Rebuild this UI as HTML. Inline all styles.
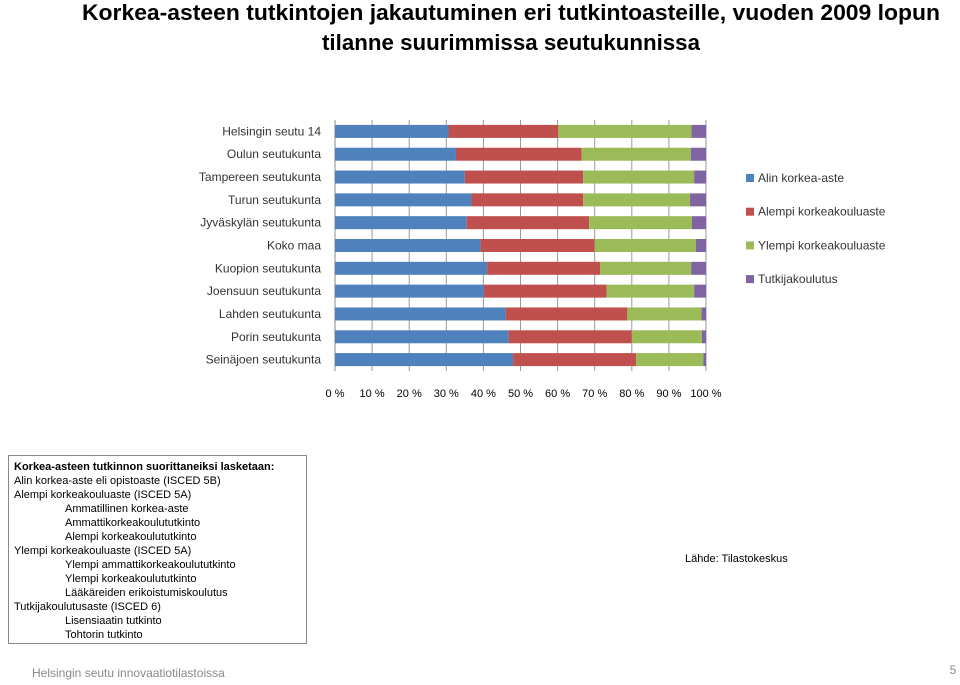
<!DOCTYPE html>
<html><head><meta charset="utf-8"><style>
body{margin:0;background:#fff;font-family:"Liberation Sans",sans-serif}
svg text{font-family:"Liberation Sans",sans-serif}
</style></head><body>
<svg width="960" height="680" viewBox="0 0 960 680">
<text x="511" y="20" text-anchor="middle" font-size="22" font-weight="bold" textLength="858" lengthAdjust="spacingAndGlyphs">Korkea-asteen tutkintojen jakautuminen eri tutkintoasteille, vuoden 2009 lopun</text>
<text x="511" y="50" text-anchor="middle" font-size="22" font-weight="bold" textLength="378" lengthAdjust="spacingAndGlyphs">tilanne suurimmissa seutukunnissa</text>
<g id="chart"></g>
<rect x="8.5" y="455.5" width="298" height="188" fill="none" stroke="#888"/>
<g font-size="11" fill="#000">
<text x="14" y="470" font-weight="bold">Korkea-asteen tutkinnon suorittaneiksi lasketaan:</text>
<text x="14" y="484">Alin korkea-aste eli opistoaste (ISCED 5B)</text>
<text x="14" y="498">Alempi korkeakouluaste (ISCED 5A)</text>
<text x="65" y="512">Ammatillinen korkea-aste</text>
<text x="65" y="526">Ammattikorkeakoulututkinto</text>
<text x="65" y="540">Alempi korkeakoulututkinto</text>
<text x="14" y="554">Ylempi korkeakouluaste (ISCED 5A)</text>
<text x="65" y="568">Ylempi ammattikorkeakoulututkinto</text>
<text x="65" y="582">Ylempi korkeakoulututkinto</text>
<text x="65" y="596">Lääkäreiden erikoistumiskoulutus</text>
<text x="14" y="610">Tutkijakoulutusaste (ISCED 6)</text>
<text x="65" y="624">Lisensiaatin tutkinto</text>
<text x="65" y="638">Tohtorin tutkinto</text>
</g>
<text x="685" y="562" font-size="11">Lähde: Tilastokeskus</text>
<text x="32" y="677" font-size="12" fill="#888">Helsingin seutu innovaatiotilastoissa</text>
<text x="953" y="674" font-size="12" fill="#888" text-anchor="middle">5</text>
</svg>
<script>
const categories=["Helsingin seutu 14","Oulun seutukunta","Tampereen seutukunta","Turun seutukunta","Jyväskylän seutukunta","Koko maa","Kuopion seutukunta","Joensuun seutukunta","Lahden seutukunta","Porin seutukunta","Seinäjoen seutukunta"];
const alin=[30.6,32.6,35.0,36.8,35.5,39.2,41.0,40.1,46.0,46.8,48.0];
const alempi=[29.6,33.9,31.9,30.1,33.0,30.8,30.5,33.1,32.8,33.2,33.2];
const ylempi=[35.9,29.4,29.9,28.8,27.7,27.3,24.5,23.6,20.0,18.9,18.1];
const tutkija=[3.9,4.1,3.2,4.3,3.8,2.7,4.0,3.2,1.2,1.1,0.7];
const seriesNames=["Alin korkea-aste","Alempi korkeakouluaste","Ylempi korkeakouluaste","Tutkijakoulutus"];
const tickLabels=["0 %","10 %","20 %","30 %","40 %","50 %","60 %","70 %","80 %","90 %","100 %"];
const colors=["#4F81BD","#C0504D","#9BBB59","#8064A2"];
const NS="http://www.w3.org/2000/svg";
const g=document.getElementById("chart");
const X0=335,X1=706,Y0=120,Y1=371;
const xs=v=>X0+(X1-X0)*v/100;
const band=(Y1-Y0)/categories.length;
const ys=i=>Y0+band*i+band/2;
function mk(t,a){const e=document.createElementNS(NS,t);for(const k in a)e.setAttribute(k,a[k]);g.appendChild(e);return e;}
tickLabels.forEach((t,i)=>{
 const v=i*10;
 const l=mk("line",{x1:xs(v),x2:xs(v),y1:Y0,y2:Y1,stroke:"#999","stroke-width":1});
 
 
 const tx=mk("text",{x:xs(v),y:397,"font-size":11,"text-anchor":"middle"});
 tx.textContent=t;
 
 
});
const ax=mk("line",{x1:X0,x2:X0,y1:Y0,y2:Y1,stroke:"#888"});


const series=[alin,alempi,ylempi,tutkija];
categories.forEach((c,i)=>{
 const t=mk("text",{x:321,y:ys(i)+4,"font-size":12,"text-anchor":"end",fill:"#333"});
 t.textContent=c;
 
 
 let acc=0;
 series.forEach((s,j)=>{
  const r=mk("rect",{x:xs(acc),y:ys(i)-6.5,width:xs(acc+s[i])-xs(acc),height:13,fill:colors[j]});
  
  
  acc+=s[i];
 });
});
seriesNames.forEach((n,j)=>{
 const y=178+j*33.7;
 const r=mk("rect",{x:746,y:y-4,width:8,height:8,fill:colors[j]});
 
 
 const t=mk("text",{x:758,y:y+4,"font-size":12,fill:"#333"});
 t.textContent=n;
 
 
});
</script>
</body></html>
